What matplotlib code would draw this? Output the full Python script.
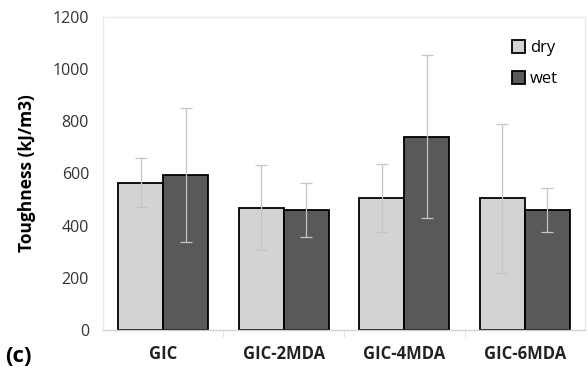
import matplotlib
matplotlib.use('Agg')
import matplotlib.pyplot as plt
import numpy as np

categories = ['GIC', 'GIC-2MDA', 'GIC-4MDA', 'GIC-6MDA']
dry = [565, 469, 507, 505]
dry_err = [93, 164, 131, 285]
wet = [594, 460, 741, 460]
wet_err = [257, 105, 312, 86]

plt.rcParams['font.family'] = ['Open Sans', 'DejaVu Sans']

fig = plt.figure(figsize=(5.88, 3.77), dpi=100)
ax = fig.add_axes([0.175, 0.125, 0.82, 0.83])

x = np.arange(len(categories))
w = 0.375
ekw = dict(ecolor='#c4c4c4', elinewidth=0.9, capsize=4, capthick=0.9)
ax.bar(x - w / 2, dry, w, yerr=dry_err, color='#d3d3d3', edgecolor='black',
       linewidth=1.3, label='dry', error_kw=ekw)
ax.bar(x + w / 2, wet, w, yerr=wet_err, color='#595959', edgecolor='black',
       linewidth=1.3, label='wet', error_kw=ekw)

ax.set_xlim(-0.5, len(categories) - 0.5)
ax.set_ylim(0, 1200)
ax.set_yticks(range(0, 1201, 200))
ax.tick_params(axis='y', length=0, labelsize=11.5, colors='#333333', pad=10)
ax.set_xticks(x)
ax.set_xticklabels(categories, fontweight='bold', fontsize=12)
ax.tick_params(axis='x', length=0, pad=11, colors='#222222')
ax.set_xticks(np.arange(0.5, len(categories) - 1, 1), minor=True)
ax.tick_params(axis='x', which='minor', length=5, color='#e0e0e0', direction='out')

for s in ax.spines.values():
    s.set_color('#ececec')
    s.set_linewidth(1)
ax.spines['bottom'].set_color('#d0d0d0')

ax.set_ylabel('Toughness (kJ/m3)', fontweight='bold', fontsize=12.5, labelpad=12)

fig.text(0.008, 0.04, '(c)', fontweight='bold', fontsize=16)

ax.legend(loc='upper right', frameon=False, fontsize=12, handlelength=0.8,
          handleheight=0.8, handletextpad=0.3, labelspacing=0.9,
          bbox_to_anchor=(0.975, 0.975))

fig.savefig('out.png', dpi=100)
